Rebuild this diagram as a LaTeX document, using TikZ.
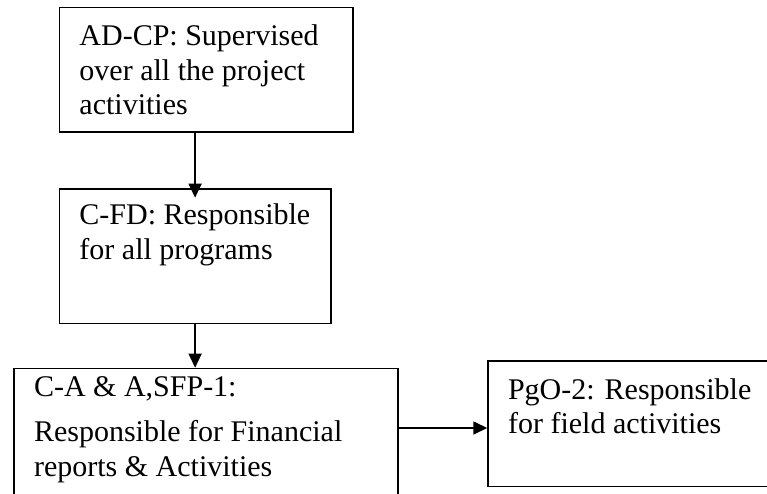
\documentclass[tikz,border=0pt]{standalone}
\usepackage{fontspec}
\setmainfont{Liberation Serif}
\usetikzlibrary{arrows.meta}
\newcommand{\boxtext}[4]{\parbox[t][#1][t]{#2}{\raggedright\rule{0pt}{#3}#4}}

\begin{document}
\begin{tikzpicture}[x=1pt,y=-1pt,
	duty/.style={draw, line width=1.5pt, anchor=north west, inner xsep=20pt, inner ysep=0pt,
		font=\fontsize{30}{34.5}\selectfont},
	link/.style={line width=1.5pt, -{Triangle[length=14pt,width=13pt]}}]
		
		\useasboundingbox (0,0) rectangle (767,493);
		\clip (0,0) rectangle (767,493);
		
		\node[duty] (adcp) at ( 58.7,  6.7) {\boxtext{124.3pt}{253.6pt}{38.3pt}{AD-CP: Supervised\\over all the project\\activities}};
		\node[duty] (cfd) at ( 58.7,188.3) {\boxtext{134.4pt}{231.3pt}{35.7pt}{C-FD: Responsible\\for all programs}};
		\node[duty] (casfp) at ( 13.3,367.7) {\boxtext{150pt}{344pt}{28.5pt}{C-A \& A,SFP-1:\\[10.5pt]Responsible for Financial\\reports \& Activities}};
		\node[duty] (pgo) at (487.3,360.0) {\boxtext{125.7pt}{280pt}{38.3pt}{PgO-2: Responsible\\for field activities}};
		
		\draw[link] (adcp.south -| cfd.north) to ([yshift=-9.4pt]cfd.north);
		\draw[link] (cfd.south) to (cfd.south |- casfp.north);
		\draw[link] ([yshift=-4.4pt]pgo.west -| casfp.east) to ([yshift=-4.4pt]pgo.west);
		
	\end{tikzpicture}
\end{document}
